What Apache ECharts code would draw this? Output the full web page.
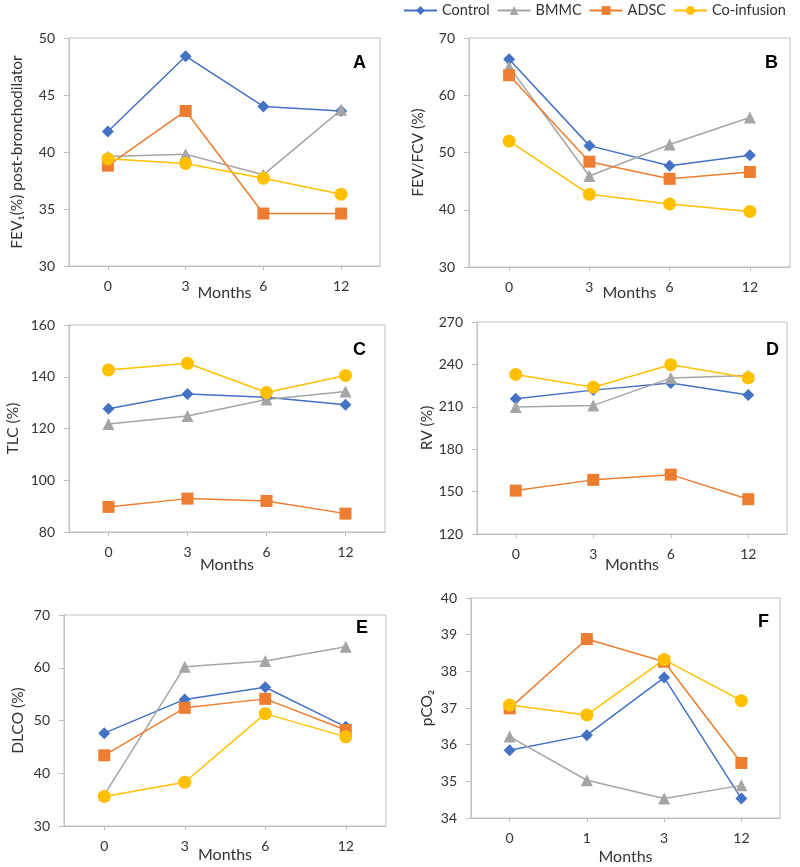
<!DOCTYPE html>
<html>
<head>
<meta charset="utf-8">
<script src="https://cdn.jsdelivr.net/npm/echarts@6/dist/echarts.min.js"></script>
<style>html,body{margin:0;padding:0;background:#fff;}#c{width:800px;height:867px;}</style>
</head>
<body>
<div id="c"></div>
<script>
var seriesNames = ['Control', 'BMMC', 'ADSC', 'Co-infusion'];
var monthsA = ['0', '3', '6', '12'];
var monthsF = ['0', '1', '3', '12'];

// Panel A: FEV1 (%) post-bronchodilator
var aControl = [41.8, 48.4, 44.0, 43.6];
var aBMMC    = [39.6, 39.8, 38.0, 43.7];
var aADSC    = [38.8, 43.6, 34.6, 34.6];
var aCo      = [39.4, 39.0, 37.7, 36.3];
// Panel B: FEV/FCV (%)
var bControl = [66.3, 51.2, 47.7, 49.5];
var bBMMC    = [65.0, 45.9, 51.4, 56.1];
var bADSC    = [63.5, 48.4, 45.4, 46.6];
var bCo      = [52.0, 42.7, 41.0, 39.7];
// Panel C: TLC (%)
var cControl = [127.6, 133.3, 132.1, 129.2];
var cBMMC    = [121.7, 124.8, 131.2, 134.3];
var cADSC    = [89.7, 92.9, 92.0, 87.1];
var cCo      = [142.6, 145.2, 133.9, 140.5];
// Panel D: RV (%)
var dControl = [215.7, 221.8, 226.8, 218.3];
var dBMMC    = [209.8, 211.0, 230.3, 232.2];
var dADSC    = [150.7, 158.3, 162.0, 144.6];
var dCo      = [232.9, 223.9, 239.8, 230.5];
// Panel E: DLCO (%)
var eControl = [47.6, 54.0, 56.3, 48.8];
var eBMMC    = [35.9, 60.2, 61.3, 64.0];
var eADSC    = [43.4, 52.4, 54.1, 48.2];
var eCo      = [35.6, 38.3, 51.3, 46.9];
// Panel F: pCO2
var fControl = [35.85, 36.26, 37.83, 34.53];
var fBMMC    = [36.22, 35.03, 34.53, 34.89];
var fADSC    = [36.99, 38.88, 38.26, 35.50];
var fCo      = [37.08, 36.81, 38.32, 37.20];

var colors = ['#4472C4', '#A5A5A5', '#ED7D31', '#FFC000'];
var symbols = ['diamond', 'triangle', 'rect', 'circle'];
var symbolSizes = [12, 12, 12, 13];
var font = 'Lato, "Open Sans", sans-serif';

var panels = [
  {grid:{left:69, top:38, width:311, height:228}, cats:monthsA, data:[aControl,aBMMC,aADSC,aCo], min:30, max:50, interval:5, yname:'FEV\u2081(%) post-bronchodilator', ygap:44, xgap:19, letter:'A', lx:360, ly:63},
  {grid:{left:469, top:38, width:321, height:229}, cats:monthsA, data:[bControl,bBMMC,bADSC,bCo], min:30, max:70, interval:10, yname:'FEV/FCV (%)', ygap:43, xgap:18, letter:'B', lx:772, ly:63},
  {grid:{left:69, top:325, width:316, height:207}, cats:monthsA, data:[cControl,cBMMC,cADSC,cCo], min:80, max:160, interval:20, yname:'TLC (%)', ygap:48, xgap:25, letter:'C', lx:360, ly:350},
  {grid:{left:477, top:322, width:310, height:212}, cats:monthsA, data:[dControl,dBMMC,dADSC,dCo], min:120, max:270, interval:30, yname:'RV (%)', ygap:42, xgap:23, letter:'D', lx:773, ly:350},
  {grid:{left:64, top:615, width:322, height:211}, cats:monthsA, data:[eControl,eBMMC,eADSC,eCo], min:30, max:70, interval:10, yname:'DLCO (%)', ygap:38, xgap:21, letter:'E', lx:363, ly:628},
  {grid:{left:471, top:598, width:309, height:220}, cats:monthsF, data:[fControl,fBMMC,fADSC,fCo], min:34, max:40, interval:1, yname:'pCO\u2082', ygap:36, xgap:31, letter:'F', lx:765, ly:622}
];

var grids = [], xAxes = [], yAxes = [], series = [], graphics = [];
panels.forEach(function (p, i) {
  grids.push({left:p.grid.left, top:p.grid.top, width:p.grid.width, height:p.grid.height, show:true, borderColor:'#bfbfbf', borderWidth:1, backgroundColor:'transparent'});
  xAxes.push({
    type:'category', gridIndex:i, data:p.cats, boundaryGap:true,
    axisLine:{lineStyle:{color:'#bfbfbf', width:1}},
    axisTick:{show:true, alignWithLabel:true, length:4, lineStyle:{color:'#bfbfbf'}},
    axisLabel:{color:'#333', fontSize:14, fontFamily:font, margin:13},
    name:'Months', nameLocation:'middle', nameGap:p.xgap, nameMoveOverlap:false,
    nameTextStyle:{color:'#333', fontSize:16, fontFamily:font}
  });
  yAxes.push({
    type:'value', gridIndex:i, min:p.min, max:p.max, interval:p.interval,
    axisLine:{show:true, lineStyle:{color:'#bfbfbf', width:1}},
    axisTick:{show:true, length:5, lineStyle:{color:'#bfbfbf'}},
    splitLine:{show:false},
    axisLabel:{color:'#333', fontSize:14, fontFamily:font, margin:14},
    name:p.yname, nameLocation:'middle', nameGap:p.ygap, nameMoveOverlap:false,
    nameTextStyle:{color:'#333', fontSize:15.5, fontFamily:font}
  });
  p.data.forEach(function (vals, k) {
    series.push({
      name:seriesNames[k], type:'line', xAxisIndex:i, yAxisIndex:i, data:vals,
      symbol:symbols[k], symbolSize:symbolSizes[k], showAllSymbol:true,
      lineStyle:{color:colors[k], width:1.5},
      itemStyle:{color:colors[k]},
      emphasis:{disabled:true}, animation:false
    });
  });
  graphics.push({type:'text', left:p.lx - 7, top:p.ly - 9, style:{text:p.letter, fontSize:18, fontWeight:'bold', fontFamily:'"Liberation Sans", Arial, sans-serif', fill:'#000'}});
});

var chart = echarts.init(document.getElementById('c'), null, {renderer:'canvas'});
chart.setOption({
  animation:false,
  color:colors,
  legend:{
    data:seriesNames, left:403, top:3, width:397, padding:0, itemWidth:33, itemHeight:11, itemGap:7,
    textStyle:{color:'#333', fontSize:14.5, fontFamily:font}
  },
  grid:grids, xAxis:xAxes, yAxis:yAxes, series:series, graphic:graphics
});
</script>
</body>
</html>
